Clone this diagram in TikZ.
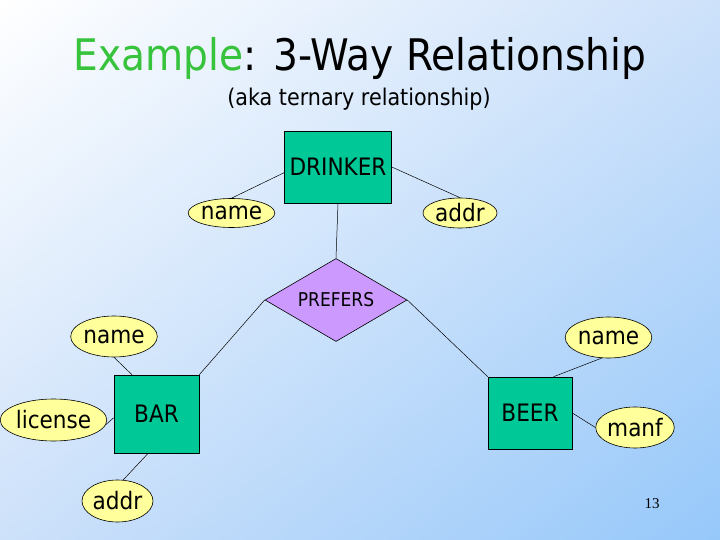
\documentclass[tikz,border=0pt]{standalone}
\usepackage{fontspec}
\setmainfont{DejaVu Sans Condensed}
\newfontfamily\numfont{Liberation Serif}
\usetikzlibrary{shapes.geometric,shadings}
\definecolor{bgmid}{RGB}{205,225,250}
\definecolor{bgend}{RGB}{150,200,250}
\definecolor{entfill}{RGB}{0,200,150}
\definecolor{attfill}{RGB}{255,255,155}
\definecolor{relfill}{RGB}{204,153,255}
\definecolor{titlegreen}{RGB}{55,195,60}
\tikzset{
  entity/.style={draw=black, line width=0.6pt, fill=entfill, rectangle, inner sep=0pt, font=\fontsize{24}{28}\selectfont},
  attr/.style={draw=black, line width=0.6pt, fill=attfill, ellipse, inner sep=0pt, font=\fontsize{24}{28}\selectfont},
  rel/.style={draw=black, line width=0.6pt, fill=relfill, diamond, aspect=2, inner sep=0pt, font=\fontsize{19}{22}\selectfont},
  link/.style={draw=black, line width=0.5pt}
}
\begin{document}
\begin{tikzpicture}[x=1pt,y=-1pt]
\shade[upper left=white, upper right=bgmid, lower left=bgmid, lower right=bgend] (0,0) rectangle (720,540);
\useasboundingbox (0,0) rectangle (720,540);
% title
\node (title) at (360,59) {\fontsize{43.5}{50}\selectfont\textcolor{titlegreen}{Example}: 3-Way Relationship};
\node (subtitle) at (359,99) {\fontsize{23}{27}\selectfont (aka ternary relationship)};
% entities
\node[entity, minimum width=107pt, minimum height=72pt] (drinker) at (338,167) {DRINKER};
\node[entity, minimum width=85pt, minimum height=78pt] (bar) at (156.5,414) {BAR};
\node[entity, minimum width=84pt, minimum height=72pt] (beer) at (530,413) {BEER};
% relationship
\node[rel, minimum width=142pt, minimum height=83pt] (prefers) at (336,300) {PREFERS};
% attributes
\node[attr, minimum width=73pt, minimum height=29pt] (dname) at (231.5,213) {name};
\node[attr, minimum width=74pt, minimum height=30pt] (daddr) at (460,213) {addr};
\node[attr, minimum width=72pt, minimum height=41pt] (bname) at (114,336.5) {name};
\node[attr, minimum width=73pt, minimum height=42pt] (license) at (53.5,420) {license};
\node[attr, minimum width=71pt, minimum height=42pt] (baddr) at (117.5,501) {addr};
\node[attr, minimum width=73pt, minimum height=41pt] (ename) at (608.5,337.5) {name};
\node[attr, minimum width=72pt, minimum height=41pt] (manf) at (635,427.5) {manf};
% connectors
\draw[link] (dname.north) -- (drinker.186);
\draw[link] (drinker.east) -- (daddr.north);
\draw[link] (drinker.south) -- (prefers.north);
\draw[link] (prefers.west) -- (bar.north east);
\draw[link] (prefers.east) -- (beer.north west);
\draw[link] (bname.south) -- (bar.122);
\draw[link] (license.355) -- (bar.185);
\draw[link] (baddr.75) -- (bar.258);
\draw[link] (ename.252) -- (beer.57);
\draw[link] (beer.east) -- (manf.west);
% page number
\node (pagenum) at (652,504) {\numfont\fontsize{15}{18}\selectfont 13};
\end{tikzpicture}
\end{document}
